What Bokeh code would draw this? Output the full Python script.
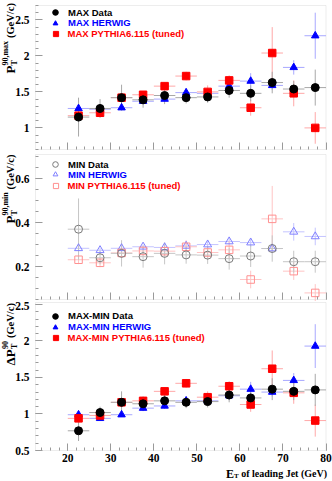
import math
import numpy as np
from bokeh.plotting import figure
from bokeh.models import (ColumnDataSource, FixedTicker, Label, Legend, LegendItem, Range1d,
                          BoxAnnotation)
from bokeh.layouts import column
from bokeh.embed import file_html
from bokeh.resources import INLINE

# ---------------- data ----------------
bin_centers = [22.5, 27.5, 32.5, 37.5, 42.5, 47.5, 52.5, 57.5, 62.5, 67.5, 72.5, 77.5]
bin_half = 2.5

max_data = [1.15, 1.27, 1.42, 1.39, 1.45, 1.42, 1.43, 1.52, 1.48, 1.63, 1.54, 1.56]
max_data_err = [0.27, 0.13, 0.18, 0.11, 0.12, 0.08, 0.08, 0.10, 0.11, 0.15, 0.11, 0.25]
max_herwig = [1.27, 1.26, 1.28, 1.37, 1.40, 1.49, 1.48, 1.58, 1.65, 1.59, 1.84, 2.28]
max_herwig_err = [0.03, 0.03, 0.03, 0.04, 0.04, 0.04, 0.05, 0.06, 0.11, 0.06, 0.10, 0.32]
max_pythia = [1.17, 1.21, 1.42, 1.46, 1.58, 1.72, 1.50, 1.66, 1.28, 2.04, 1.48, 1.00]
max_pythia_err = [0.04, 0.04, 0.05, 0.05, 0.05, 0.06, 0.09, 0.07, 0.11, 0.36, 0.18, 0.22]

min_data = [0.37, 0.24, 0.26, 0.245, 0.26, 0.253, 0.252, 0.236, 0.248, 0.282, 0.222, 0.222]
min_data_err = [0.14, 0.03, 0.06, 0.05, 0.05, 0.04, 0.04, 0.05, 0.05, 0.06, 0.05, 0.05]
min_herwig = [0.283, 0.274, 0.283, 0.29, 0.287, 0.294, 0.30, 0.314, 0.309, 0.282, 0.358, 0.337]
min_herwig_err = [0.01, 0.01, 0.01, 0.01, 0.01, 0.015, 0.015, 0.015, 0.02, 0.02, 0.04, 0.04]
min_pythia = [0.231, 0.217, 0.262, 0.271, 0.27, 0.29, 0.264, 0.276, 0.141, 0.417, 0.179, 0.08]
min_pythia_err = [0.02, 0.02, 0.02, 0.02, 0.02, 0.03, 0.03, 0.04, 0.04, 0.15, 0.04, 0.04]

diff_data = [0.77, 1.02, 1.16, 1.14, 1.18, 1.16, 1.17, 1.26, 1.22, 1.34, 1.31, 1.33]
diff_data_err = [0.14, 0.08, 0.15, 0.10, 0.10, 0.08, 0.08, 0.10, 0.10, 0.15, 0.12, 0.22]
diff_herwig = [0.99, 0.94, 0.99, 1.08, 1.11, 1.18, 1.18, 1.25, 1.34, 1.30, 1.46, 1.93]
diff_herwig_err = [0.03, 0.03, 0.03, 0.04, 0.04, 0.04, 0.05, 0.06, 0.10, 0.06, 0.10, 0.30]
diff_pythia = [0.94, 0.98, 1.16, 1.18, 1.31, 1.42, 1.23, 1.38, 1.13, 1.62, 1.29, 0.91]
diff_pythia_err = [0.04, 0.04, 0.05, 0.05, 0.05, 0.06, 0.08, 0.07, 0.10, 0.25, 0.15, 0.22]

x_lim = (12.5, 80.0)
x_ticks = [20, 30, 40, 50, 60, 70, 80]
x_tick_labels = ["20", "30", "40", "50", "60", "70", "80"]
max_lim = (0.7, 2.7)
max_ticks = [1.0, 1.5, 2.0, 2.5]
max_tick_labels = ["1", "1.5", "2", "2.5"]
min_lim = (0.05, 0.71)
min_ticks = [0.2, 0.4, 0.6]
min_tick_labels = ["0.2", "0.4", "0.6"]
diff_lim = (0.5, 2.527)
diff_ticks = [0.5, 1.0, 1.5, 2.0, 2.5]
diff_tick_labels = ["0.5", "1", "1.5", "2", "2.5"]

legend_max = ["MAX Data", "MAX HERWIG", "MAX PYTHIA6.115 (tuned)"]
legend_min = ["MIN Data", "MIN HERWIG", "MIN PYTHIA6.115 (tuned)"]
legend_diff = ["MAX-MIN Data", "MAX-MIN HERWIG", "MAX-MIN PYTHIA6.115 (tuned)"]

# ---------------- layout / style ----------------
W = 332
SERIF = "Liberation Serif"
SANS = "Liberation Sans"
FRAME_COL = "#c4c4c4"
TICK_COL = "#9a9a9a"

# pixel positions of the plot boxes on the page
XL_PX, XR_PX = 35.0, 325.5
sx = (XR_PX - XL_PX) / (x_lim[1] - x_lim[0])
x_range = Range1d(x_lim[0] - XL_PX / sx, x_lim[1] + (W - XR_PX) / sx)


def make_fig(top, h, lim, box_top_px, box_bot_px, yticks, ylabels, yminor, show_x):
    sy = (box_bot_px - box_top_px) / (lim[1] - lim[0])
    y0 = lim[0] - (top + h - box_bot_px) / sy
    y1 = lim[1] + (box_top_px - top) / sy
    p = figure(width=W, height=h, x_range=x_range, y_range=Range1d(y0, y1),
               output_backend="svg", toolbar_location=None,
               min_border_left=0, min_border_right=0, min_border_top=0, min_border_bottom=0)
    p.grid.visible = False
    p.outline_line_color = None
    p.background_fill_color = "white"
    p.border_fill_color = "white"
    p.add_layout(BoxAnnotation(left=x_lim[0], right=x_lim[1], bottom=lim[0], top=lim[1],
                               fill_color=None, fill_alpha=0, line_color=FRAME_COL, line_width=1,
                               level="underlay"))
    minor_x = [v for v in np.arange(14.0, 80.01, 2.0)]
    p.xaxis.ticker = FixedTicker(ticks=x_ticks, minor_ticks=minor_x)
    p.yaxis.ticker = FixedTicker(ticks=yticks, minor_ticks=yminor)
    p.yaxis.major_label_overrides = {t: l for t, l in zip(yticks, ylabels)}
    p.xaxis.fixed_location = lim[0]
    p.yaxis.fixed_location = x_lim[0]
    for ax in (p.xaxis[0], p.yaxis[0]):
        ax.axis_line_color = None
        ax.major_tick_line_color = TICK_COL
        ax.minor_tick_line_color = TICK_COL
        ax.major_tick_in = 7
        ax.major_tick_out = 0
        ax.minor_tick_in = 3
        ax.minor_tick_out = 0
        ax.major_label_text_font = SERIF
        ax.major_label_text_font_style = "bold"
        ax.major_label_text_font_size = "11.5px"
        ax.major_label_text_color = "black"
    p.yaxis.major_label_standoff = 6
    if show_x:
        p.xaxis.major_label_overrides = {t: l for t, l in zip(x_ticks, x_tick_labels)}
        p.xaxis.major_label_standoff = 3
    else:
        p.xaxis.major_label_overrides = {t: "" for t in x_ticks}
    return p


def errs(p, vals, err, color):
    x = np.array(bin_centers)
    v = np.array(vals)
    e = np.array(err)
    src = ColumnDataSource(dict(x=x, v=v, lo=v - e, hi=v + e, xl=x - bin_half, xr=x + bin_half))
    p.segment(x0="xl", y0="v", x1="xr", y1="v", source=src, line_color=color, line_width=1)
    p.segment(x0="x", y0="lo", x1="x", y1="hi", source=src, line_color=color, line_width=1)
    return src


def add_leg(p, top, h, rend, text, color, gw, row_px):
    mx, tx = 55.0, 68.0
    lx = mx - gw / 2.0
    standoff = int(round(tx - (lx + gw)))
    vy = h - (row_px - top) - gw / 2.0
    leg = Legend(items=[LegendItem(label=text, renderers=[rend])], location=(lx, vy),
                 orientation="vertical", padding=0, margin=0, spacing=0,
                 glyph_width=gw, glyph_height=gw, label_height=gw, label_standoff=standoff,
                 label_text_font=SANS, label_text_font_style="bold", label_text_font_size="9.5px",
                 label_text_color=color, background_fill_alpha=0, border_line_color=None)
    p.add_layout(leg)


def rot(p, x, y, text, size, align="left"):
    p.add_layout(Label(x=x, y=y, x_units="screen", y_units="screen", text=text, angle=math.pi / 2,
                       angle_units="rad", text_font=SERIF, text_font_style="bold",
                       text_font_size=f"{size}px", text_align=align, text_baseline="alphabetic",
                       text_color="black"))


def y_title(p, top, h, start_px, main, main_len, sup, sup_len):
    xb = 10.0
    s0 = h - (start_px - top)
    rot(p, xb, s0, main, 13)
    s1 = s0 + main_len
    rot(p, xb + 3.5, s1, "T", 8)
    rot(p, xb - 5.5, s1, sup, 8)
    s2 = s1 + max(sup_len, 5.4) + 2.8
    rot(p, xb, s2, "(GeV/c)", 10.5)


def panel(p, top, h, d, de, hw, he, py, pye, labels, rows, open_style):
    if open_style:
        ecols = ("#c6c6c6", "#c4c4ff", "#ffc4c4")
        mcols = ("#7a7a7a", "#8080ff", "#ff9090")
    else:
        ecols = ("#a8a8a8", "#a8a8ff", "#ffa8a8")
        mcols = ("black", "blue", "red")
    s_h = errs(p, hw, he, ecols[1])
    s_p = errs(p, py, pye, ecols[2])
    s_d = errs(p, d, de, ecols[0])
    if open_style:
        r_h = p.scatter("x", "v", source=s_h, marker="triangle", size=8, fill_color=None, line_color=mcols[1], line_width=1)
        r_p = p.scatter("x", "v", source=s_p, marker="square", size=7.5, fill_color=None, line_color=mcols[2], line_width=1)
        r_d = p.scatter("x", "v", source=s_d, marker="circle", size=8, fill_color=None, line_color=mcols[0], line_width=1)
    else:
        r_h = p.scatter("x", "v", source=s_h, marker="triangle", size=7.5, fill_color=mcols[1], line_color=mcols[1])
        r_p = p.scatter("x", "v", source=s_p, marker="square", size=7.5, fill_color=mcols[2], line_color=mcols[2])
        r_d = p.scatter("x", "v", source=s_d, marker="circle", size=8, fill_color=mcols[0], line_color=mcols[0])
    add_leg(p, top, h, r_d, labels[0], "black", 14, rows[0])
    add_leg(p, top, h, r_h, labels[1], "blue", 12, rows[1])
    add_leg(p, top, h, r_p, labels[2], "red", 13, rows[2])


# panel 1 (page 0..152, box 5..149)
T1, H1 = 0, 152
p1 = make_fig(T1, H1, max_lim, 5, 149, max_ticks, max_tick_labels,
              [v for v in np.arange(0.7, 2.71, 0.1)], False)
panel(p1, T1, H1, max_data, max_data_err, max_herwig, max_herwig_err, max_pythia, max_pythia_err,
      legend_max, (12, 22.7, 33), False)
y_title(p1, T1, H1, 73, "P", 7.9, "90,max", 24.7)

# panel 2 (page 152..301, box 154..299)
T2, H2 = 152, 149
p2 = make_fig(T2, H2, min_lim, 154, 299, min_ticks, min_tick_labels,
              [v for v in np.arange(0.05, 0.71, 0.05)], False)
panel(p2, T2, H2, min_data, min_data_err, min_herwig, min_herwig_err, min_pythia, min_pythia_err,
      legend_min, (164, 174.3, 185.7), True)
y_title(p2, T2, H2, 223, "P", 7.9, "90,min", 23.3)

# panel 3 (page 301..481, box 302..450)
T3, H3 = 301, 180
p3 = make_fig(T3, H3, diff_lim, 302, 450, diff_ticks, diff_tick_labels,
              [v for v in np.arange(0.5, 2.51, 0.1)], True)
panel(p3, T3, H3, diff_data, diff_data_err, diff_herwig, diff_herwig_err, diff_pythia, diff_pythia_err,
      legend_diff, (315.7, 326.7, 337.7), False)
y_title(p3, T3, H3, 365, "\u0394P", 16.6, "90", 8.0)

# x title
x_end = 326.5
rest_len = 8.582 * 10 + 2.6
xt_y = H3 - (473 - T3)
for txt, xx, yy, fs in (("of leading Jet (GeV)", x_end, xt_y, 10),
                        ("T", x_end - rest_len, xt_y - 2.5, 7),
                        ("E", x_end - rest_len - 4.7, xt_y, 12)):
    p3.add_layout(Label(x=xx, y=yy, x_units="screen", y_units="screen", text=txt,
                        text_font=SERIF, text_font_style="bold", text_font_size=f"{fs}px",
                        text_align="right", text_baseline="alphabetic", text_color="black"))

layout = column(p1, p2, p3, spacing=0)
open("out.html", "w").write(file_html(layout, INLINE))
